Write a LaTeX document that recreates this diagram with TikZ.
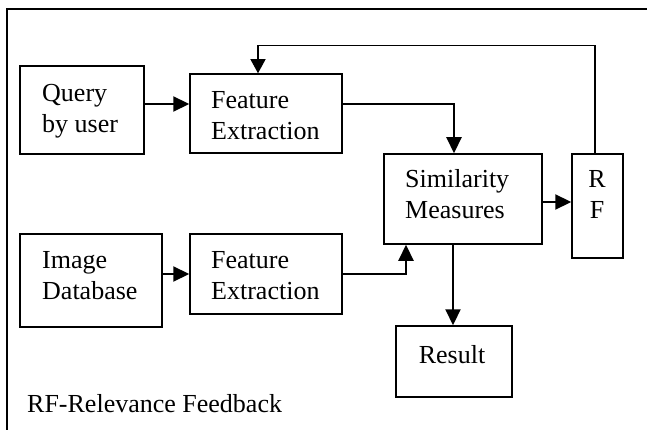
\documentclass[tikz,border=0pt]{standalone}
\usepackage{fontspec}
\setmainfont{Liberation Serif}
\usetikzlibrary{calc,arrows.meta}
\begin{document}
\begin{tikzpicture}[x=1pt,y=-1pt,
  box/.style={draw,line width=1.5pt,inner sep=0pt,rectangle},
  txt/.style={inner sep=0pt,font=\fontsize{26}{31}\selectfont},
  arr/.style={draw,line width=2.2pt,-{Triangle[length=16pt,width=15pt]}},
  fb/.style={draw,line width=1.2pt,-{Triangle[length=14pt,width=15pt]}},
  frame/.style={draw,line width=1.6pt}]
\useasboundingbox (0,0) rectangle (647,430);
\draw[frame] (7,432) -- (7,9) -- (650,9);
% boxes
\node[box,minimum width=124pt,minimum height=88pt] (q) at (82,110) {};
\node[box,minimum width=152pt,minimum height=79pt] (fe1) at (266,113.5) {};
\node[box,minimum width=158pt,minimum height=90pt] (sim) at (463,199) {};
\node[box,minimum width=51pt,minimum height=104pt] (rf) at (597.5,206) {};
\node[box,minimum width=142pt,minimum height=93pt] (id) at (91,280.5) {};
\node[box,minimum width=152pt,minimum height=80pt] (fe2) at (266,274) {};
\node[box,minimum width=116pt,minimum height=71pt] (res) at (454,361.5) {};
% texts
\node[txt,anchor=base west] (tq) at (42,102) {\begin{tabular}[t]{@{}l@{}}Query\\by user\end{tabular}};
\node[txt,anchor=base west] (tfe1) at (211,109) {\begin{tabular}[t]{@{}l@{}}Feature\\Extraction\end{tabular}};
\node[txt,anchor=base west] (tsim) at (405,188) {\begin{tabular}[t]{@{}l@{}}Similarity\\Measures\end{tabular}};
\node[txt,anchor=base] (trf) at (597,188) {\begin{tabular}[t]{@{}c@{}}R\\F\end{tabular}};
\node[txt,anchor=base west] (tid) at (42,268) {\begin{tabular}[t]{@{}l@{}}Image\\Database\end{tabular}};
\node[txt,anchor=base west] (tfe2) at (211,268) {\begin{tabular}[t]{@{}l@{}}Feature\\Extraction\end{tabular}};
\node[txt,anchor=base] (tres) at (452,363) {Result};
\node[txt,anchor=base west] (cap) at (27,412) {RF-Relevance Feedback};
% connectors
\coordinate (a1) at ([yshift=6pt]q.east);
\draw[arr] (a1) -- (a1 -| fe1.west);
\draw[arr] ([yshift=9.5pt]fe1.east) -| ([xshift=-9pt]sim.north);
\coordinate (a3) at ([yshift=-3pt]sim.east);
\draw[arr] (a3) -- (a3 -| rf.west);
\draw[fb] ([xshift=-2.5pt]rf.north) -- ++(0,-108) -| ([xshift=-8pt]fe1.north);
\coordinate (a5) at ([yshift=6.5pt]id.east);
\draw[arr] (a5) -- (a5 -| fe2.west);
\draw[arr] (fe2.east) -| ([xshift=-57pt]sim.south);
\coordinate (a7) at ([xshift=-10pt]sim.south);
\draw[arr] (a7) -- (a7 |- res.north);
\end{tikzpicture}
\end{document}
